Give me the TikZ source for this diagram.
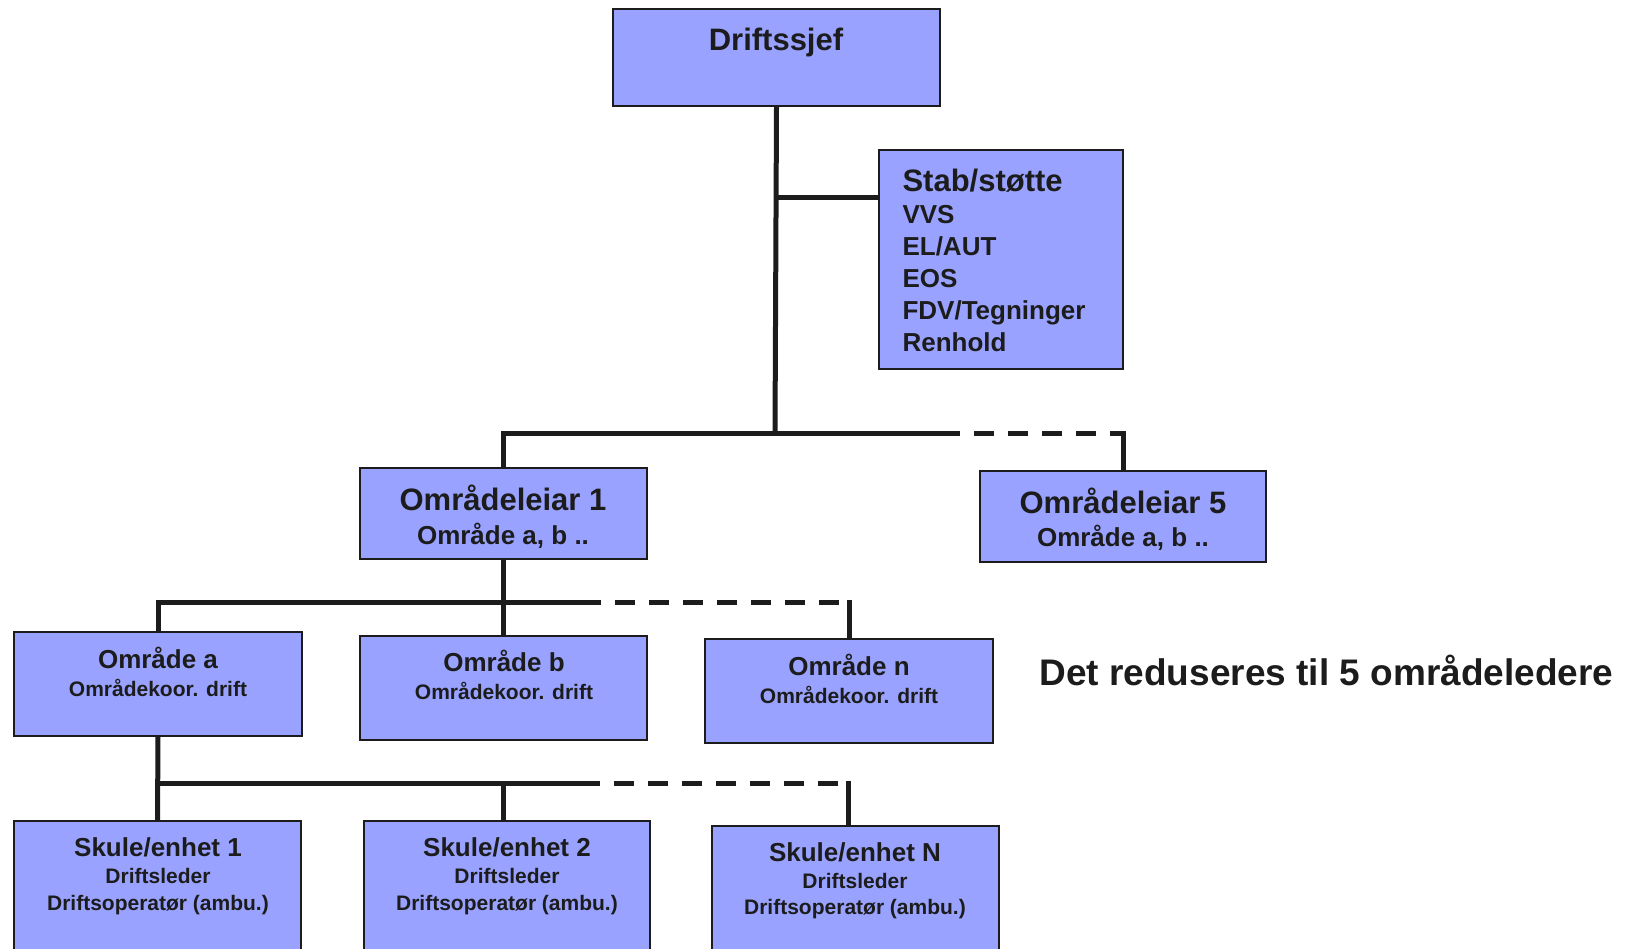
\documentclass[tikz,border=0pt]{standalone}
\usepackage{fontspec}
\setmainfont{Liberation Sans}
\definecolor{boxblue}{RGB}{153,163,255}
\definecolor{ink}{RGB}{28,28,28}

\begin{document}
\begin{tikzpicture}[x=1pt, y=-1pt,
  unit/.style={draw=ink, line width=1.8pt, fill=boxblue, inner sep=0pt},
  bus/.style={draw=ink, line width=5pt},
  gap/.style={bus, dash pattern=on 20pt off 14pt},
  big/.style={text=ink, font=\bfseries\fontsize{31}{36}\selectfont},
  mid/.style={text=ink, font=\bfseries\fontsize{26}{30}\selectfont},
  small/.style={text=ink, font=\bfseries\fontsize{21}{25}\selectfont}]
  \useasboundingbox (0,0) rectangle (1626,949);
  \clip (0,0) rectangle (1626,949);

  % boxes
  \node (sjef) at (776.5,57.5) [unit, minimum width=327pt, minimum height=97pt] {};
  \node (stab) at (1001,259.5) [unit, minimum width=244pt, minimum height=219pt] {};
  \node (leiar1) at (503.5,513.5) [unit, minimum width=287pt, minimum height=91pt] {};
  \node (leiar5) at (1123,516.5) [unit, minimum width=286pt, minimum height=91pt] {};
  \node (omra) at (158,684) [unit, minimum width=288pt, minimum height=104pt] {};
  \node (omrb) at (503.5,688) [unit, minimum width=287pt, minimum height=104pt] {};
  \node (omrn) at (849,691) [unit, minimum width=288pt, minimum height=104pt] {};
  \node (skule1) at (157.5,905) [unit, minimum width=287pt, minimum height=168pt] {};
  \node (skule2) at (507,905) [unit, minimum width=286pt, minimum height=168pt] {};
  \node (skuleN) at (855.5,910) [unit, minimum width=287pt, minimum height=168pt] {};

  % texts
  \node (sjeft) at (776,42) [big] {Driftssjef};
  \node (stabt) at (899,181) [big, anchor=west] {Stab/støtte};
  \foreach \lbl [count=\i] in {VVS, EL/AUT, EOS, FDV/Tegninger, Renhold}
    \node (stab\i) at (899,192+32*\i) [mid, anchor=base west] {\lbl};
  \node (leiar1t) at (503,498) [big] {Områdeleiar 1};
  \node (leiar1s) at (503,536) [mid] {Område a, b ..};
  \node (leiar5t) at (1123,501) [big] {Områdeleiar 5};
  \node (leiar5s) at (1123,538) [mid] {Område a, b ..};
  \node (omrat) at (158,658) [mid] {Område a};
  \node (omras) at (158,688) [small] {Områdekoor. drift};
  \node (omrbt) at (504,661) [mid] {Område b};
  \node (omrbs) at (504,691) [small] {Områdekoor. drift};
  \node (omrnt) at (849,665) [mid] {Område n};
  \node (omrns) at (849,695) [small] {Områdekoor. drift};
  \node (skule1t) at (158,847) [mid] {Skule/enhet 1};
  \node (skule1s) at (158,876) [small] {Driftsleder};
  \node (skule1u) at (158,905) [small] {Driftsoperatør (ambu.)};
  \node (skule2t) at (507,847) [mid] {Skule/enhet 2};
  \node (skule2s) at (507,876) [small] {Driftsleder};
  \node (skule2u) at (507,905) [small] {Driftsoperatør (ambu.)};
  \node (skuleNt) at (855,852) [mid] {Skule/enhet N};
  \node (skuleNs) at (855,881) [small] {Driftsleder};
  \node (skuleNu) at (855,909) [small] {Driftsoperatør (ambu.)};
  \node (note) at (1036,670) [text=ink, anchor=west, font=\bfseries\fontsize{37}{44}\selectfont] {Det reduseres til 5 områdeledere};

  % connectors
  \coordinate (top) at (775,434);
  \coordinate (jstab) at (775,198);
  \coordinate (d1) at (940,434);
  \coordinate (d2) at (581,602);
  \coordinate (d3) at (580,783);
  \coordinate (dn) at (848,783);
  \draw[bus] (sjef.south) -- (top);
  \draw[bus] (jstab) -- (jstab -| stab.west);
  \draw[bus] (leiar1.north) |- (d1);
  \draw[gap] (d1) -- (d1 -| leiar5.north);
  \draw[bus] ([yshift=2.5pt]d1 -| leiar5.north) -- (leiar5.north);
  \draw[bus] (leiar1.south) -- (omrb.north);
  \draw[bus] (omra.north) |- (d2);
  \draw[gap] (d2) -- (d2 -| omrn.north);
  \draw[bus] ([yshift=2.5pt]d2 -| omrn.north) -- (omrn.north);
  \draw[bus] (omra.south) -- (skule1.north);
  \draw[bus] (omra.south |- d3) -- (d3);
  \draw[bus] (skule2.north -| leiar1.south) -- (leiar1.south |- d3);
  \draw[gap] (d3) -- (dn);
  \draw[bus] ([yshift=2.5pt]dn) -- (dn |- skuleN.north);
\end{tikzpicture}
\end{document}
